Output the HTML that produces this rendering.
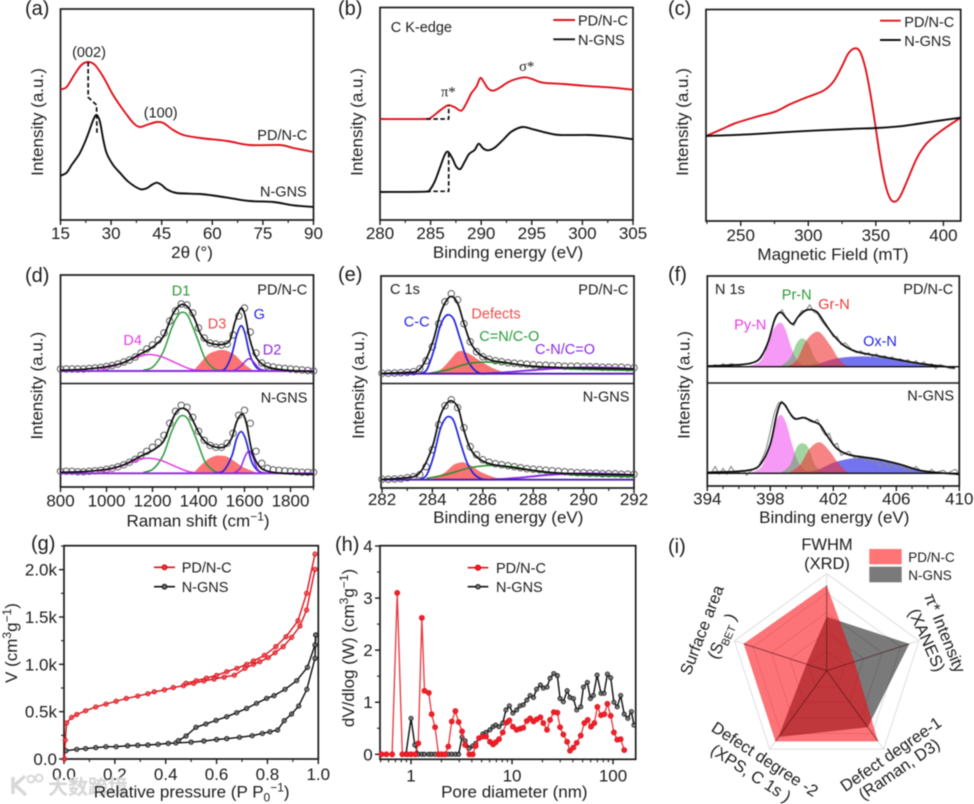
<!DOCTYPE html>
<html lang="en">
<head>
<meta charset="utf-8">
<title>Multi-panel characterisation of PD/N-C and N-GNS</title>
<style>
html,body{margin:0;padding:0;background:#fff;width:974px;height:804px;overflow:hidden}
#figure{display:block;filter:blur(.5px)}
text{font-family:"Liberation Sans","Noto Sans CJK SC",sans-serif;fill:#1c1c1c}
.letter{font-size:20px}
.title{font-size:17px;text-anchor:middle}
.tick{font-size:17px;text-anchor:middle}
.ytick{font-size:17px;text-anchor:end}
.lab{font-size:14.5px}
.mid{text-anchor:middle}
.frame{fill:none;stroke:#1a1a1a;stroke-width:1.7}
.radar{font-size:16.5px;text-anchor:middle}
</style>
</head>
<body>
<svg id="figure" xmlns="http://www.w3.org/2000/svg" width="974" height="804" viewBox="0 0 974 804">
<rect width="974" height="804" fill="#fff"/>

<g id="panel-a">
<rect class="frame" x="60.5" y="9" width="253" height="211"/>
<text class="letter" x="25" y="15">(a)</text>
<text class="title" transform="translate(43 122) rotate(-90)">Intensity (a.u.)</text>
<text class="title" x="192" y="258">2θ (°)</text>
<text class="lab mid" x="89" y="57">(002)</text>
<text class="lab mid" x="160.7" y="117.7">(100)</text>
<text class="lab" x="257.3" y="140">PD/N-C</text>
<text class="lab" x="260" y="196.7">N-GNS</text>
</g>

<g id="panel-b">
<rect class="frame" x="380" y="7.5" width="253" height="212.5"/>
<text class="letter" x="338" y="15">(b)</text>
<text class="title" transform="translate(362.7 122) rotate(-90)">Intensity (a.u.)</text>
<text class="title" x="508" y="258">Binding energy (eV)</text>
<text class="lab" x="390.7" y="32">C K-edge</text>
<text class="lab mid" x="448.3" y="96.7" style="font-family:'Liberation Serif',serif">π*</text>
<text class="lab mid" x="526.7" y="71" style="font-family:'Liberation Serif',serif">σ*</text>
<line x1="553.3" x2="575" y1="20" y2="20" stroke="#e0101a" stroke-width="1.9"/>
<line x1="553.3" x2="575" y1="39.3" y2="39.3" stroke="#111" stroke-width="1.9"/>
<text class="lab" x="578" y="25.5">PD/N-C</text>
<text class="lab" x="578" y="45">N-GNS</text>
</g>

<g id="panel-c">
<rect class="frame" x="706" y="9.5" width="254.7" height="211.5"/>
<text class="letter" x="668" y="15">(c)</text>
<text class="title" transform="translate(688 122) rotate(-90)">Intensity (a.u.)</text>
<text class="title" x="833" y="260">Magnetic Field  (mT)</text>
<line x1="880" x2="900.7" y1="20.7" y2="20.7" stroke="#e0101a" stroke-width="1.9"/>
<line x1="880" x2="900.7" y1="40" y2="40" stroke="#111" stroke-width="1.9"/>
<text class="lab" x="904.3" y="27">PD/N-C</text>
<text class="lab" x="904.3" y="46">N-GNS</text>
</g>

<g id="panel-d">
<text class="letter" x="25" y="282">(d)</text>
<text class="title" transform="translate(42.7 385.7) rotate(-90)">Intensity (a.u.)</text>
<text class="title" x="198" y="526.7">Raman shift (cm<tspan dy="-6" font-size="12">−1</tspan><tspan dy="6">)</tspan></text>
<text class="lab" x="257.3" y="294.3">PD/N-C</text>
<text class="lab" x="260.7" y="402.3">N-GNS</text>
<text class="lab mid" x="181" y="295.7" style="fill:#2a9a3a">D1</text>
<text class="lab mid" x="217" y="328.3" style="fill:#f04a4a">D3</text>
<text class="lab mid" x="259.3" y="319" style="fill:#2222dd">G</text>
<text class="lab mid" x="132.7" y="345" style="fill:#e63de6">D4</text>
<text class="lab mid" x="272" y="354.3" style="fill:#8a2be2">D2</text>
</g>

<g id="panel-e">
<text class="letter" x="338" y="281">(e)</text>
<text class="title" transform="translate(364 385) rotate(-90)">Intensity (a.u.)</text>
<text class="title" x="508.3" y="523">Binding energy (eV)</text>
<text class="lab" x="390" y="294">C 1s</text>
<text class="lab" x="578.3" y="294.3">PD/N-C</text>
<text class="lab" x="582.7" y="401.7">N-GNS</text>
<text class="lab mid" x="416.7" y="326.7" style="fill:#2222dd">C-C</text>
<text class="lab mid" x="496" y="318.3" style="fill:#f04a4a">Defects</text>
<text class="lab mid" x="509.3" y="341" style="fill:#2a9a3a">C=N/C-O</text>
<text class="lab mid" x="565" y="354" style="fill:#8a2be2">C-N/C=O</text>
</g>

<g id="panel-f">
<text class="letter" x="668" y="281">(f)</text>
<text class="title" transform="translate(689.3 385) rotate(-90)">Intensity (a.u.)</text>
<text class="title" x="834.3" y="523">Binding energy (eV)</text>
<text class="lab" x="715" y="294">N 1s</text>
<text class="lab" x="903.3" y="294">PD/N-C</text>
<text class="lab" x="907.3" y="400.7">N-GNS</text>
<text class="lab mid" x="750.3" y="329.3" style="fill:#e63de6">Py-N</text>
<text class="lab mid" x="796.7" y="299.3" style="fill:#2a9a3a">Pr-N</text>
<text class="lab mid" x="834" y="309" style="fill:#e83a3a">Gr-N</text>
<text class="lab mid" x="880" y="346" style="fill:#2222dd">Ox-N</text>
</g>

<g id="panel-g">
<rect class="frame" x="64" y="545.7" width="254.3" height="213.3"/>
<text class="letter" x="31" y="550">(g)</text>
<text class="title" transform="translate(17 643) rotate(-90)">V (cm<tspan dy="-6" font-size="12">3</tspan><tspan dy="6">g</tspan><tspan dy="-6" font-size="12">−1</tspan><tspan dy="6">)</tspan></text>
<line x1="154" x2="175" y1="567.3" y2="567.3" stroke="#e0101a" stroke-width="1.6"/>
<circle cx="164.5" cy="567.3" r="2.4" fill="#f0353c" stroke="#c00"/>
<line x1="154" x2="175" y1="586.7" y2="586.7" stroke="#111" stroke-width="1.6"/>
<circle cx="164.5" cy="586.7" r="2.4" fill="#666" stroke="#111"/>
<text class="lab" x="181.7" y="572.5">PD/N-C</text>
<text class="lab" x="181.7" y="592">N-GNS</text>
</g>

<g id="panel-h">
<rect class="frame" x="380" y="545.7" width="255.7" height="213.6"/>
<text class="letter" x="335" y="551">(h)</text>
<text class="title" transform="translate(354 648) rotate(-90)">dV/dlog (W) (cm<tspan dy="-6" font-size="12">3</tspan><tspan dy="6">g</tspan><tspan dy="-6" font-size="12">−1</tspan><tspan dy="6">)</tspan></text>
<text class="title" x="514.3" y="797.7">Pore diameter (nm)</text>
<line x1="467.7" x2="488.3" y1="567.7" y2="567.7" stroke="#e0101a" stroke-width="1.6"/>
<circle cx="478" cy="567.7" r="2.6" fill="#f0202a" stroke="#d00"/>
<line x1="467.7" x2="488.3" y1="586.7" y2="586.7" stroke="#111" stroke-width="1.6"/>
<circle cx="478" cy="586.7" r="2.2" fill="#777" stroke="#111"/>
<text class="lab" x="496" y="573">PD/N-C</text>
<text class="lab" x="496" y="592">N-GNS</text>
</g>

<g id="panel-i">
<text class="letter" x="668" y="553">(i)</text>
<text class="radar" x="827" y="550">FWHM</text>
<text class="radar" x="827" y="569">(XRD)</text>
<text class="radar" transform="translate(945 633) rotate(68)" dy=".35em">π* Intensity</text>
<text class="radar" transform="translate(927 640) rotate(66)" dy=".35em">(XANES)</text>
<text class="radar" transform="translate(701.7 630) rotate(-69)" dy=".35em">Surface area</text>
<text class="radar" transform="translate(721.7 636) rotate(-66)" dy=".35em">(S<tspan dy="4" font-size="11">BET</tspan><tspan dy="-4"> )</tspan></text>
<text class="radar" transform="translate(890.7 754) rotate(-34.5)" dy=".35em">Defect degree-1</text>
<text class="radar" transform="translate(899 769) rotate(-34.5)" dy=".35em">(Raman, D3)</text>
<text class="radar" transform="translate(765 759) rotate(33)" dy=".35em">Defect degree -2</text>
<text class="radar" transform="translate(751 773) rotate(33)" dy=".35em">(XPS, C 1s )</text>
<rect x="869.3" y="549" width="32.4" height="15.3" fill="#ff7575"/>
<rect x="869.3" y="566.7" width="32.4" height="15.6" fill="#7a7a7a"/>
<text class="lab" x="908.3" y="562" style="font-size:13.5px">PD/N-C</text>
<text class="lab" x="908.3" y="580" style="font-size:13.5px">N-GNS</text>
</g>

<g id="watermark">
<path d="M13 777v17M25 776l-10 9 11 10" fill="none" stroke="#fff" stroke-width="6"/>
<path d="M13 777v17M25 776l-10 9 11 10" fill="none" stroke="#d8d8d8" stroke-width="3.5"/>
<circle cx="31" cy="779" r="3.4" fill="none" stroke="#d8d8d8" stroke-width="2"/>
<circle cx="39" cy="778" r="3.4" fill="none" stroke="#d8d8d8" stroke-width="2"/>
<text x="48" y="794" style="font-size:20px;font-weight:bold;fill:#d6d6d6;font-family:'Noto Sans CJK SC',sans-serif">大数跨境</text>
</g>
<text class="title" x="191.7" y="797.7">Relative pressure  (P P<tspan dy="4" font-size="12">0</tspan><tspan dy="-10" font-size="12">−1</tspan><tspan dy="6">)</tspan></text>
</svg>

<script>
/* ---------- panel (a) XRD ---------- */
const aTicks = [15, 30, 45, 60, 75, 90];
const aMinor = [22.5, 37.5, 52.5, 67.5, 82.5];
const aRedX = [15,16.8,19.25,21.2,23.2,25.2,27.7,30.6,33.6,36.6,38.5,40.5,43.5,45.5,48.4,51.4,56.4,64.3,71.2,80.1,84,90];
const aRedY = [130.7,133,146,155,158,155,143,125,110,97,93,95,98,97,90,85,82,79,75,75,72,68];
const aBlackX = [15,16.8,18.3,20.7,22.7,24.7,25.7,26.7,27.7,28.7,30.6,32.6,35.1,38.5,40.5,42,43.5,45,46.5,49.4,56.4,61.3,66.3,71.2,78.1,84,90];
const aBlackY = [44.3,47.3,55,66.7,81.7,100,105,98.3,80,66.7,55,47.3,38.3,31,31.7,35,37.3,35,30.7,27,26,24,21.3,19,18,14.7,13];
const aGuideX = [23.2,23.2,25.7,25.8];
const aGuideY = [158,122.7,115,87.3];

/* ---------- panel (b) XANES ---------- */
const bTicks = [280, 285, 290, 295, 300, 305];
const bMinor = [282.5, 287.5, 292.5, 297.5, 302.5];
const bRedX = [280,284.41,285.07,285.9,286.72,287.38,288.04,288.53,289.03,289.52,289.91,290.24,290.67,291.17,291.83,292.48,293.14,294.3,295.1,296.1,298.1,300.06,303,305];
const bRedY = [101,101,102.7,109.3,114.7,112.7,109.3,116.7,126.7,133.3,142,138.3,131.7,129.3,132.3,136.7,140,142.7,140.7,137.3,136,134.3,132.3,130.3];
const bBlackX = [280,284.41,284.9,285.4,285.9,286.39,286.72,287.15,287.54,287.94,288.37,288.8,289.35,289.75,290.18,290.67,291.33,292.15,292.98,294.07,295.12,296.44,297.75,300.72,303.03,305];
const bBlackY = [28,28.3,30,38.3,51.7,65,68.3,61.7,53.3,51,58.3,66,70,76.3,71.7,69.7,72.3,80,88.3,93,90.7,87.3,85,85,83.3,80.7];
const bGuide1X = [284.58,286.79,286.79];
const bGuide1Y = [101,101,114.7];
const bGuide2X = [284.58,286.79,286.79];
const bGuide2Y = [28.7,28.7,68.3];

/* ---------- panel (c) EPR ---------- */
const cTicks = [250, 300, 350, 400];
const cMinor = [225, 275, 325, 375];
const cRedX = [224.3,235.9,245.8,261.8,275.4,286.5,298.9,311.2,318.6,324.8,329.7,334.6,338.3,342,345.7,349.4,353.1,356.8,360.5,364.2,367.9,372.9,380.3,387.7,397.5,412.8];
const cRedY = [85,91.7,97.7,104.3,109.3,116.7,123.7,130.3,139.3,154.3,167.7,172.7,169.3,154.3,129.3,97.7,64.3,37.7,22.7,19.3,24.3,39.3,62.7,77.7,89.3,103.3];
const cBlackX = [224.3,256.9,293.9,330.9,350.7,367.9,380.3,395.1,412.8];
const cBlackY = [85,86.7,89.7,92,93,94.7,97,100,103.3];

/* ---------- panel (d) Raman ---------- */
const dTicks = [800, 1000, 1200, 1400, 1600, 1800];
const dMinor = [900, 1100, 1300, 1500, 1700, 1900];
const dBaseX = [800, 1900];
const dBaseY = [0, 0];
const dCircleX = [800,825,850,875,900,925,950,975,1000,1025,1050,1075,1100,1125,1150,1175,1200,1225,1250,1275,1300,1325,1350,1375,1400,1425,1450,1475,1500,1525,1550,1575,1600,1625,1650,1675,1700,1725,1750,1775,1800,1825,1850,1875,1900];
const dTopCircles = [2,2,2,2,2,2.5,3,3.5,4.5,5.5,7,9,11,14,18,22,26,31,38,50,60,67,66,58,43,33,28,27,26,27,36,55,63,39,18,8,5,4,3,2.5,2,1.5,1,0.5,0];
const dTopFitX = [800,899,1000,1073,1145,1203,1247,1283,1305,1330,1356,1385,1407,1436,1472,1508,1537,1559,1584,1602,1624,1653,1697,1769,1900];
const dTopFitY = [0.7,1.7,4.3,8.3,16.7,24.3,34.3,54.3,62.7,66.7,63.3,51,37.7,29.3,26.7,26.7,31,49.3,62.7,56,31,12.7,4.3,1,-0.7];
const dTopD1X = [1160,1203,1247,1283,1312,1333,1356,1392,1428,1465,1501];
const dTopD1Y = [0.7,4.3,19.3,42.7,56,58.7,54.3,34.3,12.7,2.7,0];
const dTopD4X = [971,1044,1116,1167,1200,1240,1290,1348,1392,1465];
const dTopD4Y = [2,6,12.7,16,16.3,14.3,9.3,3.3,0.7,0];
const dTopD3X = [1377,1407,1443,1479,1501,1523,1559,1595,1639];
const dTopD3Y = [0,7.7,16.7,20.3,21,20.3,16,7.7,0];
const dTopGX = [1479,1515,1544,1566,1585,1602,1624,1653,1697];
const dTopGY = [0,2,16,36,45.3,37.7,16,3.3,0.3];
const dTopD2X = [1552,1581,1602,1618,1636,1660,1682];
const dTopD2Y = [0,4.3,9.3,12.3,10,3.3,0.3];
const dBotCircles = [2,2,2,1.5,1.5,2,2.5,3,4,5,6.5,8.5,11,14,18,22,26,31,38,50,62,68,66,56,42,33,28,26,26,30,40,58,63,50,22,10,5,3.5,3,2.5,2,1.5,1,1,1];
const dBotFitX = [800,899,1000,1073,1145,1203,1247,1283,1305,1331,1356,1385,1407,1436,1479,1515,1544,1566,1591,1610,1631,1660,1697,1769,1900];
const dBotFitY = [1,1.7,4,8.3,16.7,23.3,31.7,51.7,61.7,65,61.7,48.3,38.3,30,26,26.7,35,51.7,59.3,48.3,23.3,8.3,2.3,0,-1];
const dBotD1X = [1160,1203,1247,1283,1312,1333,1356,1392,1428,1465,1501];
const dBotD1Y = [1,4.3,18.3,41.7,55,57.7,53.3,33.3,11.7,2.7,0];
const dBotD4X = [971,1044,1116,1160,1189,1240,1290,1348,1392,1465];
const dBotD4Y = [1.7,5.7,11.7,14.7,15,12.7,7.7,2.3,0.3,0];
const dBotD3X = [1377,1407,1443,1472,1494,1523,1559,1595,1660];
const dBotD3Y = [0,7.3,14.3,17.3,17.7,16.7,11.7,6,0];
const dBotGX = [1465,1508,1544,1566,1586,1606,1631,1660,1697];
const dBotGY = [0.3,2.3,16.7,35,41.7,33.3,11.7,2.3,0];
const dBotD2X = [1552,1581,1602,1620,1636,1656,1682];
const dBotD2Y = [0,5,16.7,22.7,16.7,4.3,0];

/* ---------- panel (e) C 1s ---------- */
const eTicks = [282, 284, 286, 288, 290, 292];
const eMinor = [283, 285, 287, 289, 291];
const eBaseX = [282, 292];
const eBaseY = [0, 0];
const eCircleX = [282,282.25,282.5,282.75,283,283.25,283.5,283.75,284,284.25,284.5,284.75,285,285.25,285.5,285.75,286,286.25,286.5,286.75,287,287.25,287.5,287.75,288,288.25,288.5,288.75,289,289.25,289.5,289.75,290,290.25,290.5,290.75,291,291.25,291.5,291.75,292];
const eTopCircles = [0.5,0.5,0.7,1,1.3,2,5,13,27,50,72,80,74,50,32,22,17,14.5,13,12,11,10.5,10,9.5,9,8.5,8.5,8,8,7.5,7.5,7.5,7,7,7,6.5,6.5,6.5,6.5,6,6];
const eTopFitX = [282,283,283.4,283.7,284.04,284.3,284.57,284.8,285.03,285.23,285.5,285.83,286.3,286.95,287.88,289.2,292];
const eTopFitY = [0.3,1.3,2.7,12,33.7,58.7,73.7,77,68.7,52,32,20.3,13.7,11,7.7,6,4.7];
const eTopCCX = [283.5,283.77,284.04,284.3,284.5,284.68,284.86,285.1,285.36,285.63,285.9,286.16];
const eTopCCY = [0,3.7,22,47,57,58.7,53.7,35,15.3,4.7,0.3,0];
const eTopDefX = [283.77,284.3,284.7,284.96,285.17,285.5,285.9,286.42,286.95];
const eTopDefY = [0,3.7,13.7,21.3,22.7,19.3,12.7,5.3,0.3];
const eTopCNOX = [283.77,284.57,285.36,286.16,287.09,288.15,289.47,292];
const eTopCNOY = [0,3.7,9.7,11.7,10,6.7,4.7,3.3];
const eTopCOX = [285.9,287.22,288.54,289.87,291.19,292];
const eTopCOY = [0,2,4.7,6.3,6,4.7];
const eBotCircles = [0.5,0.5,0.7,1,2,3,5,13,30,55,74,80,72,52,33,25,20,17.5,16,15,14,13,12,11,10.5,10,9.5,9,8.5,8,7.5,7,7,6.5,6.5,6,6,6,5.5,5.5,5.5];
const eBotFitX = [282,283,283.4,283.7,284.04,284.3,284.57,284.78,285.03,285.23,285.5,285.83,286.3,286.95,287.88,289.2,292];
const eBotFitY = [0.3,2,4.7,14.7,36.3,63,76.3,78.7,71.3,51.3,31.3,21.3,15.7,13,9.7,6.3,4.7];
const eBotCCX = [283.5,283.77,284.04,284.3,284.5,284.68,284.86,285.1,285.36,285.63,285.9,286.16];
const eBotCCY = [0,4.7,23,49.7,60.7,63,58,38,18,6.3,1.3,0];
const eBotDefX = [283.9,284.44,284.83,285.03,285.23,285.56,285.9,286.42,286.82];
const eBotDefY = [0,6.3,14.7,16.7,17.3,13.7,8,2.7,0];
const eBotCNOX = [283.77,284.57,285.5,286.42,287.35,288.41,289.74,292];
const eBotCNOY = [1.3,5.3,12,14.3,12.3,7.3,4.7,3];
const eBotCOX = [286.3,287.48,288.54,289.87,291.19,292];
const eBotCOY = [0,2,4.7,6.3,5.7,4.7];

/* ---------- panel (f) N 1s ---------- */
const fTicks = [394, 398, 402, 406, 410];
const fMinor = [395,396,397,399,400,401,403,404,405,407,408,409];
const fBaseX = [394, 410];
const fBaseY = [0, 0];
const fRawX = [394,394.25,394.5,394.75,395,395.25,395.5,395.75,396,396.25,396.5,396.75,397,397.25,397.5,397.75,398,398.25,398.5,398.75,399,399.25,399.5,399.75,400,400.25,400.5,400.75,401,401.25,401.5,401.75,402,402.25,402.5,402.75,403,403.25,403.5,403.75,404,404.25,404.5,404.75,405,405.25,405.5,405.75,406,406.25,406.5,406.75,407,407.25,407.5,407.75,408,408.25,408.5,408.75,409,409.25,409.5,409.75,410];
const fTopRaw = [1,0,2,0,3,1,3,2,1,2,3,3,5,7,13,18,33,45,53,57,49,44,41,50,56,56,62,55,53,46,41,37,30,30,22,24,20,16,14,16,12,14,10,13,8,11,8,10,6,8,5,7,3,6,2,5,1,3,-2,2,1,-1,-2,-2];
const fTopFitX = [394,395.65,396.71,397.34,397.87,398.3,398.66,399.04,399.42,399.78,400.31,400.94,401.47,402,402.63,403.48,404.75,406.23,407.71,409.72];
const fTopFitY = [0.7,1.7,3.3,8.3,25,48.3,54.3,48.3,42.7,50,56.7,55,43.3,31.7,21.7,15,11,6.7,2.7,-1];
const fTopPyX = [396.5,397.34,397.77,398.19,398.61,398.93,399.35,399.78,400.41];
const fTopPyY = [0,5,18.3,36.7,44,38.3,18.3,5,0];
const fTopPrX = [398.61,399.25,399.67,400.03,400.41,400.84,401.37];
const fTopPrY = [0,8.3,23.3,28.3,23.3,8.3,0];
const fTopGrX = [399.04,399.67,400.31,401.05,401.79,402.32,402.85];
const fTopGrY = [0,6.7,26.7,35,21.7,8.3,0];
const fTopOxX = [399.67,400.94,402.21,403.69,405.17,406.66,408.35,409.41];
const fTopOxY = [0,2.7,8.3,10.3,9,5,0.7,0];
const fBotRaw = [2,0,7,-1,5,-1,7,1,1,3,-2,2,5,7,15,25,42,60,70,72,66,60,56,54,55,56,52,51,54,44,38,40,28,30,18,20,22,17,14,17,13,14,11,13,7,12,6,9,5,8,4,5,3,7,3,2,1,4,0,2,3,0,2,4,0];
const fBotFitX = [394,395.65,396.71,397.34,397.98,398.4,398.66,398.93,399.25,399.57,400.1,400.73,401.16,401.58,402.21,403.06,404.75,406.23,407.71,410];
const fBotFitY = [1,1.7,3.3,8.3,28.3,58.3,70,68.3,60,54.3,55.7,51.7,48.3,38.3,25,18.3,14.3,9,2.3,-1];
const fBotPyX = [396.6,397.45,397.94,398.36,398.7,399.04,399.42,399.88,400.52];
const fBotPyY = [0,6.7,28.3,51.7,58.3,48.3,26.7,8.3,0];
const fBotPrX = [398.61,399.25,399.67,400.03,400.41,400.84,401.37];
const fBotPrY = [0,8.3,25.7,30,25.7,8.3,0];
const fBotGrX = [399.14,399.88,400.52,401.15,401.79,402.32,402.95];
const fBotGrY = [0,8.3,25,31,21.7,10,0];
const fBotOxX = [399.67,400.94,402.21,403.69,405.17,406.66,408.35,409.41];
const fBotOxY = [0,3.3,11.7,15.7,13.3,6.7,1,0];

/* ---------- panel (g) isotherm ---------- */
const gXTicks = [0, 0.2, 0.4, 0.6, 0.8, 1];
const gXLabels = ['0.0', '0.2', '0.4', '0.6', '0.8', '1.0'];
const gXMinor = [0.1, 0.3, 0.5, 0.7, 0.9];
const gYTicks = [0, 500, 1000, 1500, 2000];
const gYLabels = ['0.0', '0.5k', '1.0k', '1.5k', '2.0k'];
const gYMinor = [250, 750, 1250, 1750, 2250];
const gRedAdsP = [0.002,0.005,0.01,0.03,0.05,0.085,0.125,0.165,0.205,0.245,0.29,0.33,0.355,0.395,0.43,0.47,0.51,0.55,0.59,0.63,0.67,0.712,0.745,0.77,0.803,0.83,0.862,0.895,0.928,0.954,0.987];
const gRedAdsV = [0,200,380,440,470,510,550,580,610,640,665,690,710,730,755,775,800,825,845,865,885,958,1000,1028,1070,1123,1187,1285,1405,1574,2003];
const gRedDesP = [0.987,0.954,0.92,0.873,0.833,0.788,0.745,0.718,0.68,0.64,0.6,0.56,0.52,0.48];
const gRedDesV = [2165,1750,1460,1292,1187,1095,1035,1000,958,922,884,855,827,800];
const gBlackAdsP = [0.008,0.05,0.085,0.125,0.165,0.205,0.25,0.29,0.33,0.37,0.41,0.44,0.5,0.55,0.6,0.64,0.69,0.74,0.78,0.81,0.84,0.866,0.895,0.923,0.955,0.987,0.99];
const gBlackAdsV = [88,102,110,120,130,130,140,145,148,155,165,170,178,190,206,215,229,246,270,288,306,405,475,560,736,1063,1310];
const gBlackDesP = [0.99,0.987,0.957,0.915,0.869,0.826,0.797,0.757,0.718,0.679,0.64,0.598,0.558,0.519,0.48,0.45];
const gBlackDesV = [1310,1204,968,827,736,669,641,588,535,489,447,408,370,335,243,194];

/* ---------- panel (h) pore distribution ---------- */
const hXTicks = [1, 10, 100];
const hXMinor = [0.5,0.6,0.7,0.8,0.9,2,3,4,5,6,7,8,9,20,30,40,50,60,70,80,90];
const hYTicks = [0, 1, 2, 3, 4];
const hYMinor = [0.5, 1.5, 2.5, 3.5];
const hRedD = [0.51,0.57,0.65,0.73,0.82,0.92,1,1.1,1.18,1.28,1.36,1.5,1.6,1.73,1.87,2.01,2.17,2.34,2.53,2.75,2.96,3.2,3.43,3.78,4.08,4.37,4.71,5.13,5.53,6.05,6.49,6.89,7.43,8.09,8.85,9.41,10.2,11.1,12,12.9,14,15.1,16.3,17.5,19.1,20.4,22.2,23.8,25.9,28.1,29.9,32.2,35.1,37.5,40.5,43.7,47.9,52,56.1,60.5,65.3,70,76,82,87.9,94.8,102,110,119,129];
const hRedV = [0,0,0,3.1,0,0,0,0,0.21,2.62,1.22,1.18,0.77,0.52,0,0,0,0.15,0.63,0.83,0.62,0.44,0.18,0,0,0.16,0.31,0.34,0.34,0.24,0.19,0.23,0.29,0.42,0.61,0.65,0.53,0.47,0.49,0.51,0.64,0.69,0.63,0.67,0.71,0.6,0.47,0.66,0.81,0.8,0.52,0.38,0.24,0.07,0.13,0.22,0.36,0.6,0.66,0.53,0.6,0.91,0.75,0.77,0.97,0.74,0.42,0.28,0.29,0.08];
const hBlackD = [0.89,1,1.09,1.18,1.28,1.36,1.5,1.6,1.73,1.87,2.01,2.17,2.34,2.53,2.75,2.96,3.2,3.43,3.78,4.08,4.37,4.71,5.13,5.53,6.05,6.49,6.89,7.43,8.09,8.7,9.41,10.2,11.1,12,12.9,14,15.1,16.3,17.5,19.1,20.4,22.2,23.8,25.9,28.1,29.9,32.2,35.1,37.5,40.5,43.7,47.9,50.9,55.7,59.7,63.8,69.5,76,81.5,87.9,94.8,102,110,119,129,140,152,161];
const hBlackV = [0,0.69,0.18,0,0,0,0,0,0,0,0,0,0,0,0,0,0.33,0.26,0.12,0.16,0.21,0.31,0.39,0.42,0.47,0.53,0.56,0.53,0.6,0.85,0.93,0.79,0.85,0.93,0.95,1.04,1.13,1.09,1.25,1.33,1.27,1.29,1.46,1.55,1.51,1.07,1.01,1.22,1.09,1.07,0.85,0.91,1.29,1.38,1.07,1.13,1.52,1.17,1.17,1.54,1.47,1,0.91,1.13,0.77,0.69,0.82,0.56];

/* ---------- panel (i) radar ---------- */
const iCategories = ['FWHM', 'pi-intensity', 'defect-degree-1', 'defect-degree-2', 'surface-area'];
const iRings = [0.2, 0.4, 0.6, 0.8, 1];
const iPdnc = [0.88, 0.3, 0.9, 0.9, 0.9];
const iNgns = [0.555, 0.895, 0.72, 0.845, 0.22];

/* ---------- drawing helpers ---------- */
const NS = 'http://www.w3.org/2000/svg';
function linear(d0, d1, r0, r1) { return v => r0 + (v - d0) * (r1 - r0) / (d1 - d0); }
function logScale(d0, d1, r0, r1) { const a = Math.log10(d0), b = Math.log10(d1); return v => r0 + (Math.log10(v) - a) * (r1 - r0) / (b - a); }
function make(tag, attrs, parent) {
  const n = document.createElementNS(NS, tag);
  for (const k in attrs) n.setAttribute(k, attrs[k]);
  parent.appendChild(n);
  return n;
}
function label(node, name) {
  
  
  return node;
}
function pts(xs, ys, sx, sy) { return ys.map((v, i) => [sx(xs[i]), sy(v)]); }
function straight(p) { return p.map((q, i) => (i ? 'L' : 'M') + q[0].toFixed(2) + ' ' + q[1].toFixed(2)).join(''); }
function smooth(p) {
  let d = 'M' + p[0][0].toFixed(2) + ' ' + p[0][1].toFixed(2);
  for (let i = 0; i < p.length - 1; i++) {
    const a = p[Math.max(0, i - 1)], b = p[i], c = p[i + 1], e = p[Math.min(p.length - 1, i + 2)];
    const t = 0.16;
    d += 'C' + (b[0] + (c[0] - a[0]) * t).toFixed(2) + ' ' + (b[1] + (c[1] - a[1]) * t).toFixed(2) + ' ' +
         (c[0] - (e[0] - b[0]) * t).toFixed(2) + ' ' + (c[1] - (e[1] - b[1]) * t).toFixed(2) + ' ' +
         c[0].toFixed(2) + ' ' + c[1].toFixed(2);
  }
  return d;
}
function curve(parent, name, xs, ys, sx, sy, color, width, extra) {
  const p = pts(xs, ys, sx, sy);
  const n = make('path', Object.assign({ d: smooth(p), fill: 'none', stroke: color, 'stroke-width': width, 'stroke-linejoin': 'round' }, extra || {}), parent);
  return label(n, name);
}
function polyline(parent, name, xs, ys, sx, sy, color, width, extra) {
  const p = pts(xs, ys, sx, sy);
  const n = make('path', Object.assign({ d: straight(p), fill: 'none', stroke: color, 'stroke-width': width, 'stroke-linejoin': 'round' }, extra || {}), parent);
  return label(n, name);
}
function area(parent, name, xs, ys, sx, sy, fill, stroke) {
  const p = pts(xs, ys, sx, sy);
  const d = smooth(p) + 'L' + sx(xs[ys.length - 1]).toFixed(2) + ' ' + sy(0).toFixed(2) + 'L' + sx(xs[0]).toFixed(2) + ' ' + sy(0).toFixed(2) + 'Z';
  const n = make('path', { d: d, fill: fill, stroke: stroke || 'none', 'stroke-width': 0.8 }, parent);
  return label(n, name);
}
function dots(parent, name, xs, ys, sx, sy, r, fill, stroke, sw) {
  const g = make('g', {}, parent);
  label(g, name);
  ys.forEach((v, i) => {
    const c = make('circle', { cx: sx(xs[i]).toFixed(2), cy: sy(v).toFixed(2), r: r, fill: fill, stroke: stroke, 'stroke-width': sw }, g);
    label(c, name + '-point');
  });
  return g;
}
function xAxis(parent, pfx, sx, yBase, labelY, majors, texts, minors) {
  majors.forEach((v, i) => {
    const t = make('line', { x1: sx(v), x2: sx(v), y1: yBase, y2: yBase + 5, stroke: '#1a1a1a', 'stroke-width': 1.4 }, parent);
    label(t, pfx + '-x-tick');
    const s = make('text', { class: 'tick', x: sx(v), y: labelY }, parent);
    s.textContent = texts[i];
    label(s, pfx + '-x-tick-label');
  });
  minors.forEach(v => {
    const t = make('line', { x1: sx(v), x2: sx(v), y1: yBase, y2: yBase + 3, stroke: '#1a1a1a', 'stroke-width': 1.1 }, parent);
    label(t, pfx + '-x-minor-tick');
  });
}
function yAxis(parent, pfx, sy, xBase, labelX, majors, texts, minors) {
  majors.forEach((v, i) => {
    const t = make('line', { x1: xBase - 5, x2: xBase, y1: sy(v), y2: sy(v), stroke: '#1a1a1a', 'stroke-width': 1.4 }, parent);
    label(t, pfx + '-y-tick');
    const s = make('text', { class: 'ytick', x: labelX, y: sy(v) + 6 }, parent);
    s.textContent = texts[i];
    label(s, pfx + '-y-tick-label');
  });
  minors.forEach(v => {
    const t = make('line', { x1: xBase - 3, x2: xBase, y1: sy(v), y2: sy(v), stroke: '#1a1a1a', 'stroke-width': 1.1 }, parent);
    label(t, pfx + '-y-minor-tick');
  });
}
function subFrame(parent, pfx, x, y, w, h, div) {
  const r = make('rect', { class: 'frame', x: x, y: y, width: w, height: h }, parent);
  label(r, pfx + '-plot-frame');
  const l = make('line', { x1: x, x2: x + w, y1: div, y2: div, stroke: '#1a1a1a', 'stroke-width': 1.6 }, parent);
  label(l, pfx + '-panel-divider');
}

const RED = '#e0101a', BLACK = '#0c0c0c', GREEN = '#2a9a3a', BLUE = '#2222dd', MAG = '#e63de6', PUR = '#8a2be2';
const dash = { 'stroke-dasharray': '4.5 2.5' };
const RING = '#5c5c5c';

/* panel a */
(function () {
  const g = document.getElementById('panel-a');
  const sx = linear(15, 90, 60.5, 313.5), sy = linear(0, 211, 220, 9);
  xAxis(g, 'a', sx, 220, 239, aTicks, aTicks, aMinor);
  curve(g, 'a-curve-pdnc', aRedX, aRedY, sx, sy, RED, 1.9);
  curve(g, 'a-curve-ngns', aBlackX, aBlackY, sx, sy, BLACK, 1.9);
  polyline(g, 'a-peak-shift-guide', aGuideX, aGuideY, sx, sy, BLACK, 1.7, dash);
})();

/* panel b */
(function () {
  const g = document.getElementById('panel-b');
  const sx = linear(280, 305, 380, 633), sy = linear(0, 212.5, 220, 7.5);
  xAxis(g, 'b', sx, 220, 239, bTicks, bTicks, bMinor);
  curve(g, 'b-curve-pdnc', bRedX, bRedY, sx, sy, RED, 1.9);
  curve(g, 'b-curve-ngns', bBlackX, bBlackY, sx, sy, BLACK, 1.9);
  polyline(g, 'b-pi-guide-pdnc', bGuide1X, bGuide1Y, sx, sy, BLACK, 1.7, dash);
  polyline(g, 'b-pi-guide-ngns', bGuide2X, bGuide2Y, sx, sy, BLACK, 1.7, dash);
})();

/* panel c */
(function () {
  const g = document.getElementById('panel-c');
  const sx = linear(224.3, 412.8, 706, 960.7), sy = linear(0, 211.5, 221, 9.5);
  xAxis(g, 'c', sx, 221, 241, cTicks, cTicks, cMinor);
  curve(g, 'c-curve-pdnc', cRedX, cRedY, sx, sy, RED, 1.9);
  curve(g, 'c-curve-ngns', cBlackX, cBlackY, sx, sy, BLACK, 1.9);
})();

/* panel d */
(function () {
  const g = document.getElementById('panel-d');
  subFrame(g, 'd', 60.5, 275, 253, 212, 383.5);
  const sx = linear(800, 1900, 60.5, 313.5);
  const top = linear(0, 100, 371, 271), bot = linear(0, 100, 473.3, 373.3);
  xAxis(g, 'd', sx, 487, 506.7, dTicks, dTicks, dMinor);
  dots(g, 'd-top-measured-points', dCircleX, dTopCircles, sx, top, 3.2, 'none', RING, 1);
  area(g, 'd-top-d3-peak', dTopD3X, dTopD3Y, sx, top, 'rgba(250,80,80,.8)');
  curve(g, 'd-top-d1-peak', dTopD1X, dTopD1Y, sx, top, GREEN, 1.5);
  curve(g, 'd-top-d4-peak', dTopD4X, dTopD4Y, sx, top, MAG, 1.5);
  curve(g, 'd-top-g-peak', dTopGX, dTopGY, sx, top, BLUE, 1.7);
  curve(g, 'd-top-d2-peak', dTopD2X, dTopD2Y, sx, top, PUR, 1.5);
  polyline(g, 'd-top-baseline', dBaseX, dBaseY, sx, top, PUR, 1.9);
  curve(g, 'd-top-fit', dTopFitX, dTopFitY, sx, top, BLACK, 1.7);
  dots(g, 'd-bottom-measured-points', dCircleX, dBotCircles, sx, bot, 3.2, 'none', RING, 1);
  area(g, 'd-bottom-d3-peak', dBotD3X, dBotD3Y, sx, bot, 'rgba(250,80,80,.8)');
  curve(g, 'd-bottom-d1-peak', dBotD1X, dBotD1Y, sx, bot, GREEN, 1.5);
  curve(g, 'd-bottom-d4-peak', dBotD4X, dBotD4Y, sx, bot, MAG, 1.5);
  curve(g, 'd-bottom-g-peak', dBotGX, dBotGY, sx, bot, BLUE, 1.7);
  curve(g, 'd-bottom-d2-peak', dBotD2X, dBotD2Y, sx, bot, PUR, 1.5);
  polyline(g, 'd-bottom-baseline', dBaseX, dBaseY, sx, bot, PUR, 1.9);
  curve(g, 'd-bottom-fit', dBotFitX, dBotFitY, sx, bot, BLACK, 1.7);
})();

/* panel e */
(function () {
  const g = document.getElementById('panel-e');
  subFrame(g, 'e', 381, 276, 253, 212, 383.5);
  const sx = linear(282, 292, 382, 634);
  const top = linear(0, 100, 373.7, 273.7), bot = linear(0, 100, 479.7, 379.7);
  xAxis(g, 'e', sx, 488, 505, eTicks, eTicks, eMinor);
  dots(g, 'e-top-measured-points', eCircleX, eTopCircles, sx, top, 3.2, 'none', RING, 1);
  area(g, 'e-top-defects-peak', eTopDefX, eTopDefY, sx, top, 'rgba(250,80,80,.8)');
  curve(g, 'e-top-cc-peak', eTopCCX, eTopCCY, sx, top, BLUE, 1.7);
  curve(g, 'e-top-cno-peak', eTopCNOX, eTopCNOY, sx, top, '#2a8a2a', 1.5);
  curve(g, 'e-top-co-peak', eTopCOX, eTopCOY, sx, top, PUR, 1.9);
  polyline(g, 'e-top-baseline', eBaseX, eBaseY, sx, top, '#4a1ab0', 1.9);
  curve(g, 'e-top-fit', eTopFitX, eTopFitY, sx, top, BLACK, 1.7);
  dots(g, 'e-bottom-measured-points', eCircleX, eBotCircles, sx, bot, 3.2, 'none', RING, 1);
  area(g, 'e-bottom-defects-peak', eBotDefX, eBotDefY, sx, bot, 'rgba(250,80,80,.8)');
  curve(g, 'e-bottom-cc-peak', eBotCCX, eBotCCY, sx, bot, BLUE, 1.7);
  curve(g, 'e-bottom-cno-peak', eBotCNOX, eBotCNOY, sx, bot, '#2a8a2a', 1.5);
  curve(g, 'e-bottom-co-peak', eBotCOX, eBotCOY, sx, bot, PUR, 1.9);
  polyline(g, 'e-bottom-baseline', eBaseX, eBaseY, sx, bot, '#4a1ab0', 1.9);
  curve(g, 'e-bottom-fit', eBotFitX, eBotFitY, sx, bot, BLACK, 1.7);
})();

/* panel f */
(function () {
  const g = document.getElementById('panel-f');
  subFrame(g, 'f', 707.3, 276, 252, 210, 383);
  const sx = linear(394, 410, 707.3, 959.3);
  const top = linear(0, 100, 366.7, 266.7), bot = linear(0, 100, 473.3, 373.3);
  xAxis(g, 'f', sx, 486, 504.3, fTicks, fTicks, fMinor);
  area(g, 'f-top-ox-n-peak', fTopOxX, fTopOxY, sx, top, 'rgba(40,40,230,.65)');
  area(g, 'f-top-py-n-peak', fTopPyX, fTopPyY, sx, top, 'rgba(240,70,240,.55)');
  area(g, 'f-top-pr-n-peak', fTopPrX, fTopPrY, sx, top, 'rgba(70,170,70,.5)');
  area(g, 'f-top-gr-n-peak', fTopGrX, fTopGrY, sx, top, 'rgba(240,50,50,.6)');
  polyline(g, 'f-top-raw-spectrum', fRawX, fTopRaw, sx, top, '#8a8a8a', 1.1);
  polyline(g, 'f-top-baseline', fBaseX, fBaseY, sx, top, BLACK, 1.4);
  curve(g, 'f-top-fit', fTopFitX, fTopFitY, sx, top, BLACK, 1.7);
  area(g, 'f-bottom-ox-n-peak', fBotOxX, fBotOxY, sx, bot, 'rgba(40,40,230,.65)');
  area(g, 'f-bottom-py-n-peak', fBotPyX, fBotPyY, sx, bot, 'rgba(240,70,240,.55)');
  area(g, 'f-bottom-pr-n-peak', fBotPrX, fBotPrY, sx, bot, 'rgba(70,170,70,.5)');
  area(g, 'f-bottom-gr-n-peak', fBotGrX, fBotGrY, sx, bot, 'rgba(240,50,50,.6)');
  polyline(g, 'f-bottom-raw-spectrum', fRawX, fBotRaw, sx, bot, '#8a8a8a', 1.1);
  polyline(g, 'f-bottom-baseline', fBaseX, fBaseY, sx, bot, BLACK, 1.4);
  curve(g, 'f-bottom-fit', fBotFitX, fBotFitY, sx, bot, BLACK, 1.7);
})();

/* panel g */
(function () {
  const g = document.getElementById('panel-g');
  const sx = linear(0, 1, 64, 318.3), sy = linear(0, 2253, 759, 545.7);
  xAxis(g, 'g', sx, 759, 780, gXTicks, gXLabels, gXMinor);
  yAxis(g, 'g', sy, 64, 57, gYTicks, gYLabels, gYMinor);
  polyline(g, 'g-line-pdnc-adsorption', gRedAdsP, gRedAdsV, sx, sy, RED, 1.4);
  polyline(g, 'g-line-pdnc-desorption', gRedDesP, gRedDesV, sx, sy, RED, 1.4);
  polyline(g, 'g-line-ngns-adsorption', gBlackAdsP, gBlackAdsV, sx, sy, BLACK, 1.4);
  polyline(g, 'g-line-ngns-desorption', gBlackDesP, gBlackDesV, sx, sy, BLACK, 1.4);
  dots(g, 'g-points-pdnc-adsorption', gRedAdsP, gRedAdsV, sx, sy, 2.2, 'rgba(240,70,75,.75)', '#d01018', 0.8);
  dots(g, 'g-points-pdnc-desorption', gRedDesP, gRedDesV, sx, sy, 2.2, 'rgba(240,70,75,.75)', '#d01018', 0.8);
  dots(g, 'g-points-ngns-adsorption', gBlackAdsP, gBlackAdsV, sx, sy, 2.2, 'rgba(110,110,110,.8)', BLACK, 0.8);
  dots(g, 'g-points-ngns-desorption', gBlackDesP, gBlackDesV, sx, sy, 2.2, 'rgba(110,110,110,.8)', BLACK, 0.8);
})();

/* panel h */
(function () {
  const g = document.getElementById('panel-h');
  const sx = logScale(0.493, 167.6, 380, 635.7), sy = linear(0, 4, 754.3, 546);
  xAxis(g, 'h', sx, 759.3, 781.7, hXTicks, hXTicks, hXMinor);
  yAxis(g, 'h', sy, 380, 372.7, hYTicks, hYTicks, hYMinor);
  polyline(g, 'h-line-ngns', hBlackD, hBlackV, sx, sy, BLACK, 1.4);
  dots(g, 'h-points-ngns', hBlackD, hBlackV, sx, sy, 2.1, 'rgba(120,120,120,.8)', BLACK, 0.8);
  polyline(g, 'h-line-pdnc', hRedD, hRedV, sx, sy, '#e8343a', 1.3);
  dots(g, 'h-points-pdnc', hRedD, hRedV, sx, sy, 2.6, '#f0202a', '#d8101a', 0.6);
})();

/* panel i */
(function () {
  const g = document.getElementById('panel-i');
  const cx = 826.7, cy = 670.7;
  const sr = linear(0, 1, 0, 97);
  const n = iCategories.length;
  function vertex(i, v) {
    const a = -Math.PI / 2 + i * 2 * Math.PI / n;
    return [cx + sr(v) * Math.cos(a), cy + sr(v) * Math.sin(a)];
  }
  function poly(vals) { return vals.map((v, i) => vertex(i, v).map(c => c.toFixed(2)).join(',')).join(' '); }
  iRings.forEach(v => {
    const p = make('polygon', { points: poly(iCategories.map(() => v)), fill: 'none', stroke: '#dedede', 'stroke-width': 1 }, g);
    label(p, 'i-grid-ring');
  });
  iCategories.forEach((c, i) => {
    const e = vertex(i, 1);
    const l = make('line', { x1: cx, y1: cy, x2: e[0], y2: e[1], stroke: '#dedede', 'stroke-width': 1 }, g);
    label(l, 'i-spoke-' + c);
  });
  const grey = make('polygon', { points: poly(iNgns), fill: 'rgba(0,0,0,.52)', stroke: 'none' }, g);
  label(grey, 'i-polygon-ngns');
  const red = make('polygon', { points: poly(iPdnc), fill: 'rgba(250,0,10,.55)', stroke: 'none' }, g);
  label(red, 'i-polygon-pdnc');
  iCategories.forEach((c, i) => {
    const e = vertex(i, Math.max(iPdnc[i], iNgns[i]));
    const l = make('line', { x1: cx, y1: cy, x2: e[0], y2: e[1], stroke: 'rgba(70,15,15,.5)', 'stroke-width': 1 }, g);
    label(l, 'i-spoke-overlay-' + c);
  });
})();
</script>
</body>
</html>
